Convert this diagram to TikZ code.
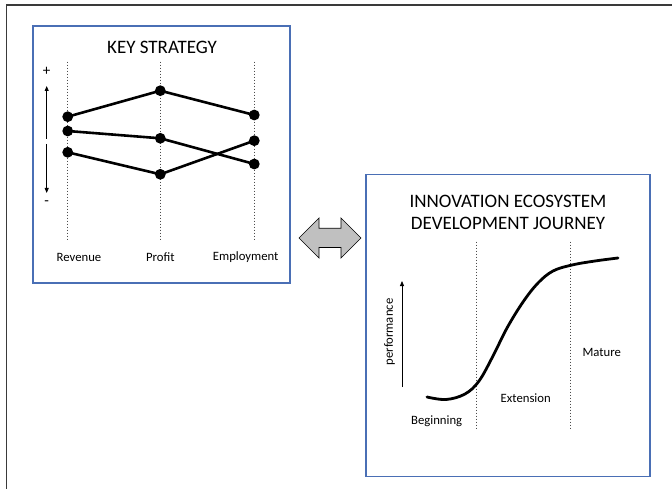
\documentclass[tikz,border=0pt]{standalone}
\usepackage{fontspec}
\setmainfont{Carlito}
\usetikzlibrary{arrows.meta}
\definecolor{panelblue}{HTML}{4A6FB5}
\definecolor{arrowgray}{HTML}{C0C0C0}
\definecolor{framegray}{HTML}{3A3A3A}
\begin{document}
\begin{tikzpicture}[x=1pt,y=-1pt,
  panel/.style={draw=panelblue, line width=1.1pt, inner sep=0pt, fill=white},
  titletext/.style={font=\fontsize{19}{21.6}\selectfont, align=center, inner sep=0pt},
  lbl/.style={font=\fontsize{12.7}{14}\selectfont, inner sep=0pt},
  signlbl/.style={font=\fontsize{15}{16}\selectfont, inner sep=0pt},
  guide/.style={draw=black!70, line width=0.6pt, dash pattern=on 1.6pt off 1.4pt},
  dot/.style={circle, fill=black, inner sep=0pt, minimum size=10.8pt},
  dline/.style={line width=2.6pt, black},
  thinarrow/.style={line width=0.8pt, -{Triangle[length=5pt,width=4pt]}},
]
\useasboundingbox (0,0) rectangle (672,489);
% outer frame
\draw[framegray, line width=1.8pt] (6.5,489) -- (6.5,5) -- (672,5);

% ---------- left panel ----------
\node[panel, minimum width=257pt, minimum height=257pt] (ks) at (161.5,154.5) {};
\node[titletext] (kst) at (162,47.5) {KEY STRATEGY};
\foreach \x/\n in {67.7/r, 160.3/p, 254.3/e}{
  \coordinate (\n top) at (\x,61.7);
  \coordinate (\n bot) at (\x,239);
  \draw[guide] (\n top) -- (\n bot);
}
\node[signlbl] (plus) at (46.7,71) {+};
\node[signlbl] (minus) at (46.7,203.5) {-};
\coordinate (axm1) at (46.7,139);
\coordinate (axm2) at (46.7,144);
\coordinate (axtop) at (46.7,86);
\coordinate (axbot) at (46.7,193);
\draw[thinarrow] (axm1) -- (axtop);
\draw[thinarrow] (axm2) -- (axbot);

\node[dot] (r1) at (67.7,116.7) {};
\node[dot] (r2) at (67.7,131) {};
\node[dot] (r3) at (67.7,152.3) {};
\node[dot] (p1) at (160.3,90.7) {};
\node[dot] (p2) at (160.3,138.3) {};
\node[dot] (p3) at (160.3,174.3) {};
\node[dot] (e1) at (254.3,115) {};
\node[dot] (e2) at (254.3,140.7) {};
\node[dot] (e3) at (254.3,164) {};
\draw[dline] (r1.center) -- (p1.center) -- (e1.center);
\draw[dline] (r2.center) -- (p2.center) -- (e3.center);
\draw[dline] (r3.center) -- (p3.center) -- (e2.center);

\node[lbl] (rev) at (79,257.3) {Revenue};
\node[lbl] (pro) at (160.3,257.3) {Profit};
\node[lbl] (emp) at (245.7,257.3) {Employment};

% ---------- double arrow ----------
\filldraw[fill=arrowgray, draw=black, line width=0.7pt, line join=miter]
  (299,238) -- (319,218) -- (319,228.3) -- (341,228.3) -- (341,218) -- (361,238)
  -- (341,258) -- (341,247.5) -- (319,247.5) -- (319,258) -- cycle;

% ---------- right panel ----------
\node[panel, minimum width=284pt, minimum height=302pt] (ie) at (508,325.5) {};
\node[titletext] (iet) at (508,212.5) {INNOVATION ECOSYSTEM\\DEVELOPMENT JOURNEY};
\foreach \x/\n in {476.7/a, 570.7/b}{
  \coordinate (\n top) at (\x,241.7);
  \coordinate (\n bot) at (\x,428);
  \draw[guide] (\n top) -- (\n bot);
}
\coordinate (pf1) at (402,387);
\coordinate (pf2) at (402,281);
\draw[thinarrow] (pf1) -- (pf2);
\node[lbl, rotate=90] (perf) at (389.5,332) {performance};

\draw[line width=2.8pt, line cap=round] plot[smooth, tension=0.6] coordinates {
  (427,397) (446,399.5) (465,394) (479,381) (493,356) (507,328) (523,302)
  (538,283) (553,271) (572,265) (595,261) (618,258)};

\node[lbl] (beg) at (436.7,421.7) {Beginning};
\node[lbl] (ext) at (525.7,398.3) {Extension};
\node[lbl] (mat) at (601.7,352.7) {Mature};
\end{tikzpicture}
\end{document}
